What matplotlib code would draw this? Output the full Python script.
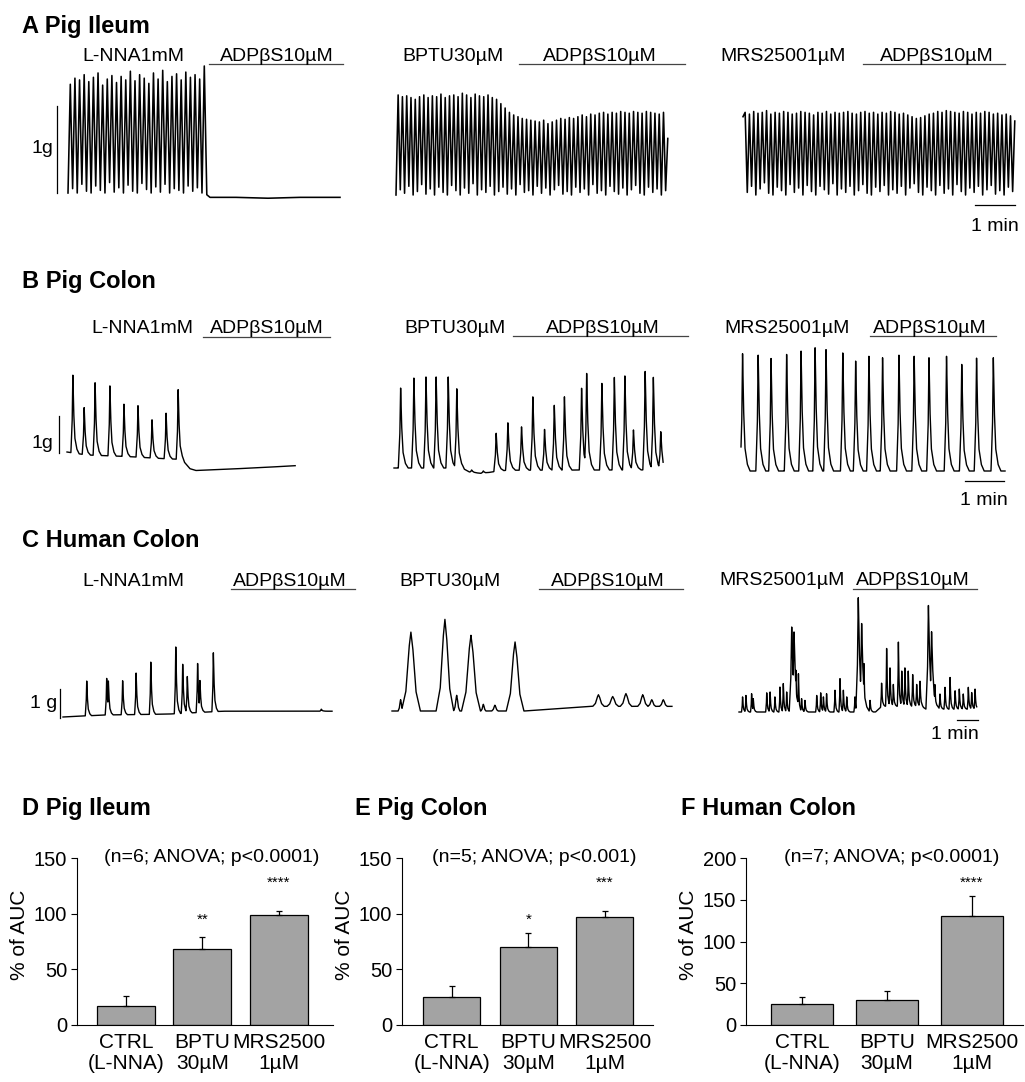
import numpy as np
import matplotlib.pyplot as plt

plt.rcParams['font.family'] = ['Liberation Sans', 'DejaVu Sans']

# ---------------- trace data: time in min from trace start, force in g ----------------
# A Pig ileum (regular phasic contractions: peak / trough pairs)
A1_PERIOD = 0.1155
A1_PEAKS = [1.25, 1.32, 1.30, 1.36, 1.28, 1.33, 1.38, 1.24, 1.31, 1.35, 1.27, 1.34, 1.30, 1.40, 1.29,
            1.36, 1.32, 1.26, 1.38, 1.31, 1.41, 1.28, 1.34, 1.37, 1.30, 1.39, 1.33, 1.36, 1.31, 1.46]
A1_TROUGHS = [0.00, 0.05, 0.00, 0.10, 0.02, 0.00, 0.08, 0.03, 0.00, 0.12, 0.01, 0.06, 0.00, 0.09, 0.02,
              0.00, 0.11, 0.04, 0.00, 0.07, 0.01, 0.10, 0.00, 0.05, 0.03, 0.00, 0.08, 0.02, 0.06, 0.00]
A1_TAIL_T = [3.47, 3.55, 4.2, 5.0, 5.8, 6.8]
A1_TAIL_V = [-0.02, -0.05, -0.05, -0.06, -0.05, -0.05]

A2_PERIOD = 0.107
A2_PEAKS = [1.15, 1.13, 1.14, 1.12, 1.10, 1.13, 1.15, 1.12, 1.14, 1.13, 1.16, 1.12, 1.14, 1.15, 1.13, 1.17,
            1.15, 1.12, 1.16, 1.14, 1.13, 1.15, 1.12, 1.10,
            1.05, 1.00, 0.95, 0.92, 0.90, 0.88, 0.87,
            0.86, 0.85, 0.84, 0.86, 0.82, 0.84, 0.86, 0.88, 0.87, 0.89, 0.88, 0.90,
            0.92, 0.90, 0.93, 0.92, 0.94, 0.95, 0.93, 0.95, 0.94, 0.96, 0.95, 0.94, 0.96, 0.95, 0.94, 0.96,
            0.95, 0.94, 0.93, 0.95, 0.65]
A2_TROUGHS = [0.00, 0.06, 0.02, 0.10, 0.00, 0.04, 0.12, 0.01, 0.07, 0.00, 0.09, 0.03, 0.00, 0.11, 0.05, 0.00,
              0.08, 0.02, 0.13, 0.00, 0.06, 0.03, 0.10, 0.00, 0.04, 0.09, 0.01, 0.07, 0.00, 0.12, 0.03, 0.05,
              0.00, 0.10, 0.02, 0.08, 0.00, 0.06, 0.11, 0.01, 0.04, 0.00, 0.09, 0.03, 0.07, 0.00, 0.12, 0.02,
              0.05, 0.00, 0.10, 0.04, 0.01, 0.08, 0.00, 0.06, 0.11, 0.02, 0.00, 0.09, 0.03, 0.07, 0.00, 0.05]

A3_PERIOD = 0.107
A3_PEAKS = [0.95, 0.93, 0.96, 0.94, 0.95, 0.97, 0.93, 0.95, 0.94, 0.96, 0.95, 0.93, 0.94, 0.96, 0.95, 0.94,
            0.92, 0.95, 0.94, 0.96, 0.93, 0.95, 0.94, 0.95, 0.96, 0.94, 0.93, 0.95, 0.96, 0.94, 0.95, 0.93,
            0.95, 0.94, 0.96, 0.95, 0.93, 0.94, 0.92, 0.90, 0.88, 0.89, 0.91, 0.93, 0.94, 0.96, 0.95, 0.97,
            0.96, 0.95, 0.94, 0.96, 0.95, 0.93, 0.95, 0.94, 0.96, 0.95, 0.93, 0.94, 0.92, 0.93, 0.91, 0.85]
A3_TROUGHS = [0.90, 0.03, 0.10, 0.00, 0.07, 0.14, 0.02, 0.00, 0.09, 0.05, 0.00, 0.12, 0.03, 0.08, 0.00, 0.11,
              0.04, 0.00, 0.10, 0.06, 0.01, 0.13, 0.00, 0.07, 0.03, 0.10, 0.00, 0.05, 0.12, 0.02, 0.00, 0.09,
              0.04, 0.11, 0.00, 0.06, 0.02, 0.10, 0.00, 0.08, 0.13, 0.03, 0.00, 0.09, 0.05, 0.00, 0.11, 0.02,
              0.07, 0.00, 0.12, 0.04, 0.00, 0.08, 0.03, 0.10, 0.00, 0.06, 0.11, 0.01, 0.05, 0.00, 0.09, 0.04]

# B Pig colon
B1_T = [0.15, 0.44, 0.72, 1.10, 1.46, 1.82, 2.18, 2.54, 2.85]
B1_A = [2.10, 1.27, 1.96, 1.89, 1.41, 1.39, 1.03, 1.23, 1.88]
B1_BASE_T = [0, 0.5, 1.5, 2.5, 2.95, 3.15, 3.3, 4.0, 5.0, 5.85]
B1_BASE_V = [0, -0.08, -0.12, -0.18, -0.2, -0.45, -0.5, -0.47, -0.42, -0.37]

B2_T = [0.17, 0.51, 0.82, 1.08, 1.39, 1.61, 1.99, 2.29, 2.62, 2.92, 3.27, 3.56, 3.86, 4.11, 4.37,
        4.81, 4.94, 5.33, 5.65, 5.92, 6.14, 6.44, 6.65, 6.84]
B2_A = [2.16, 2.43, 2.46, 2.46, 2.46, 2.14, 0.07, 0.07, 1.03, 1.28, 1.17, 1.98, 1.10, 1.75, 1.98,
        2.21, 2.61, 2.34, 2.50, 2.54, 1.08, 2.66, 2.50, 1.03]
B2_BASE_T = [0, 1.75, 1.95, 2.3, 2.55, 2.9, 6.9]
B2_BASE_V = [0, 0, -0.12, -0.15, -0.1, -0.06, -0.05]

B3_T = [0.04, 0.44, 0.77, 1.17, 1.54, 1.90, 2.18, 2.61, 2.94, 3.28, 3.63, 4.05, 4.44, 4.82, 5.27,
        5.66, 6.04, 6.47]
B3_A = [3.17, 3.13, 3.04, 3.15, 3.24, 3.33, 3.28, 3.19, 2.97, 3.10, 3.06, 3.13, 3.10, 3.06, 3.10,
        2.88, 3.05, 3.06]
B3_BASE_T = [0, 6.77]
B3_BASE_V = [0, 0]

# C Human colon
C1_T = [1.13, 2.08, 2.16, 2.84, 3.48, 4.18, 5.37, 5.70, 5.92, 6.41, 6.52, 7.16, 12.3]
C1_A = [1.20, 1.26, 1.17, 1.17, 1.43, 1.80, 2.30, 1.69, 1.26, 1.69, 1.10, 2.03, 0.07]
C1_BASE_T = [0, 2, 5, 7.6, 12.81]
C1_BASE_V = [0, 0.07, 0.1, 0.2, 0.2]

C2_T = [0.41, 0.90, 2.52, 3.08, 3.76, 4.35, 4.90, 5.86, 9.83, 10.51, 11.14, 11.94, 12.37, 12.92]
C2_A = [0.39, 2.72, 3.16, 0.54, 2.61, 0.23, 0.20, 2.38, 0.40, 0.34, 0.44, 0.40, 0.23, 0.23]
C2_W = [0.08, 0.30, 0.28, 0.10, 0.30, 0.08, 0.10, 0.28, 0.18, 0.18, 0.18, 0.16, 0.12, 0.12]
C2_BASE_T = [0, 6.3, 9.5, 13.33]
C2_BASE_V = [0, 0, 0.16, 0.16]

C3_T = [0.17, 0.33, 0.60, 0.68, 1.32, 1.48, 1.71, 1.95, 2.11, 2.27, 2.51, 2.62, 2.71, 2.83, 2.98,
        3.14, 3.70, 3.89, 4.02, 4.17, 4.57, 4.81, 4.97, 5.13, 5.52, 5.68, 5.84, 5.95, 6.24, 6.79,
        7.03, 7.19, 7.35, 7.59, 7.75, 7.90, 8.06, 8.27, 8.46, 8.62, 9.02, 9.17, 9.33, 9.57, 9.81,
        10.05, 10.29, 10.49, 10.68, 10.92, 11.08, 11.24]
C3_A = [0.52, 0.57, 0.63, 0.46, 0.66, 0.69, 0.52, 0.86, 0.98, 0.69, 2.93, 2.76, 1.44, 1.32, 0.46,
        0.40, 0.57, 0.66, 0.52, 0.63, 0.75, 1.15, 0.75, 0.52, 0.52, 3.94, 3.05, 1.67, 0.40, 0.80,
        1.99, 1.32, 0.75, 2.21, 1.21, 1.32, 1.21, 1.09, 0.75, 0.86, 3.62, 2.70, 0.86, 0.52, 0.75,
        1.09, 0.63, 0.69, 0.52, 0.75, 0.57, 0.69]
C3_BASE_T = [0, 6.5, 6.8, 8.7, 9.0, 9.5, 11.32]
C3_BASE_V = [0, 0, 0.2, 0.2, 0.05, 0.1, 0.1]

# ---------------- summary bar data (% of AUC) ----------------
BAR_LABELS = ['CTRL\n(L-NNA)', 'BPTU\n30µM', 'MRS2500\n1µM']
D_MEAN = [17, 68, 99]
D_SEM = [9, 11, 3]
D_STARS = ['', '**', '****']
E_MEAN = [25, 70, 97]
E_SEM = [10, 13, 5]
E_STARS = ['', '*', '***']
F_MEAN = [25, 30, 131]
F_SEM = [9, 11, 24]
F_STARS = ['', '', '****']

# waveform templates (shape only, scaled by each peak's width and amplitude)
SPIKE = (np.array([-1.0, -0.35, 0.0, 0.4, 1.0, 2.0, 3.2]), np.array([0.0, 0.4, 1.0, 0.55, 0.2, 0.06, 0.0]))
HUMP = (np.array([-1.5, -0.8, -0.3, 0.0, 0.3, 0.8, 1.5]), np.array([0.0, 0.25, 0.8, 1.0, 0.8, 0.25, 0.0]))

W, H = 1025, 1082
fig = plt.figure(figsize=(W / 100, H / 100), dpi=100)
ov = fig.add_axes([0, 0, 1, 1])
ov.set_xlim(0, W)
ov.set_ylim(H, 0)
ov.axis('off')

LW = 1.0


def trace_axes(x0, span, base_y, ppm, ppg, y_top, y_bot):
    ax = fig.add_axes([x0 / W, 1 - y_bot / H, span * ppm / W, (y_bot - y_top) / H])
    ax.set_xlim(0, span)
    ax.set_ylim(-(y_bot - base_y) / ppg, (base_y - y_top) / ppg)
    ax.axis('off')
    return ax


def zigzag(ax, period, peaks, troughs, tail_t=(), tail_v=()):
    vals = np.column_stack([troughs, peaks]).ravel()
    t = np.arange(len(vals)) * period / 2
    ax.plot(np.concatenate([t, tail_t]), np.concatenate([vals, tail_v]), color='k', lw=1.15,
            clip_on=False)


def peaks_trace(ax, span, times, amps, widths, base_t, base_v, shape):
    widths = np.broadcast_to(widths, len(times))
    t = np.union1d(np.linspace(0, span, 4000), times)
    y = np.zeros_like(t)
    for ti, ai, wi in zip(times, amps, widths):
        y = np.maximum(y, ai * np.interp(t - ti, shape[0] * wi, shape[1], left=0, right=0))
    ax.plot(t, np.interp(t, base_t, base_v) + y, color='k', lw=LW, clip_on=False)


def drug(cx1, s1, cx2, x0, x1, base, line_y):
    ov.text(cx1, base, s1, ha='center', va='baseline', fontsize=14)
    ov.text(cx2, base, 'ADPβS10µM', ha='center', va='baseline', fontsize=14)
    ov.plot([x0, x1], [line_y, line_y], color='#444444', lw=0.9)


# ---------------- A Pig Ileum ----------------
ov.text(22, 33, 'A Pig Ileum', fontsize=17, fontweight='bold', va='baseline')
drug(133, 'L-NNA1mM', 277, 209, 343, 61, 64)
drug(453, 'BPTU30µM', 600, 519, 685, 61, 64)
drug(783, 'MRS25001µM', 937, 863, 1005, 61, 64)

a1 = trace_axes(68, 6.8, 193, 40, 87, 65, 215)
zigzag(a1, A1_PERIOD, A1_PEAKS, A1_TROUGHS, A1_TAIL_T, A1_TAIL_V)
a1.plot([-0.275, -0.275], [0, 1], color='k', lw=0.9, clip_on=False)
ov.text(53, 153, '1g', ha='right', va='baseline', fontsize=14)

a2 = trace_axes(396, 6.8, 195, 40, 87, 65, 215)
zigzag(a2, A2_PERIOD, A2_PEAKS, A2_TROUGHS)

a3 = trace_axes(743, 6.8, 195, 40, 87, 65, 215)
zigzag(a3, A3_PERIOD, A3_PEAKS, A3_TROUGHS)
a3.plot([5.8, 6.8], [-0.115, -0.115], color='k', lw=0.9, clip_on=False)
ov.text(995, 231, '1 min', ha='center', va='baseline', fontsize=14)

# ---------------- B Pig Colon ----------------
ov.text(22, 288, 'B Pig Colon', fontsize=17, fontweight='bold', va='baseline')
drug(142, 'L-NNA1mM', 267, 203, 330, 333, 337)
drug(455, 'BPTU30µM', 603, 513, 688, 333, 336)
drug(787, 'MRS25001µM', 930, 870, 996, 333, 336)

b1 = trace_axes(67, 5.85, 452, 39, 37, 345, 490)
peaks_trace(b1, 5.85, B1_T, B1_A, 0.05, B1_BASE_T, B1_BASE_V, SPIKE)
b1.plot([-0.205, -0.205], [-0.03, 0.97], color='k', lw=0.9, clip_on=False)
ov.text(53, 448, '1g', ha='right', va='baseline', fontsize=14)

b2 = trace_axes(394, 6.9, 468, 39, 37, 345, 490)
peaks_trace(b2, 6.9, B2_T, B2_A, 0.06, B2_BASE_T, B2_BASE_V, SPIKE)

b3 = trace_axes(741, 6.77, 471, 39, 37, 345, 490)
peaks_trace(b3, 6.77, B3_T, B3_A, 0.06, B3_BASE_T, B3_BASE_V, SPIKE)
b3.plot([5.74, 6.74], [-0.27, -0.27], color='k', lw=0.9, clip_on=False)
ov.text(984, 505, '1 min', ha='center', va='baseline', fontsize=14)

# ---------------- C Human Colon ----------------
ov.text(22, 547, 'C Human Colon', fontsize=17, fontweight='bold', va='baseline')
drug(133, 'L-NNA1mM', 290, 231, 355, 586, 589)
drug(450, 'BPTU30µM', 608, 539, 683, 586, 589)
drug(782, 'MRS25001µM', 913, 853, 977, 585, 589)

c1 = trace_axes(63, 12.81, 717, 21, 29, 595, 745)
peaks_trace(c1, 12.81, C1_T, C1_A, 0.07, C1_BASE_T, C1_BASE_V, SPIKE)
c1.plot([-0.14, -0.14], [-0.03, 0.97], color='k', lw=0.9, clip_on=False)
ov.text(57, 708, '1 g', ha='right', va='baseline', fontsize=14)

c2 = trace_axes(392, 13.33, 711, 21, 29, 595, 745)
peaks_trace(c2, 13.33, C2_T, C2_A, C2_W, C2_BASE_T, C2_BASE_V, HUMP)

c3 = trace_axes(739, 11.32, 712, 21, 29, 595, 745)
c3_w = [0.12 if a > 2.5 else 0.05 for a in C3_A]
peaks_trace(c3, 11.32, C3_T, C3_A, c3_w, C3_BASE_T, C3_BASE_V, SPIKE)
c3.plot([10.38, 11.38], [-0.28, -0.28], color='k', lw=0.9, clip_on=False)
ov.text(955, 739, '1 min', ha='center', va='baseline', fontsize=14)


# ---------------- D/E/F bar charts ----------------
def bar_panel(x0, x1, xlim, width, ymax, step, means, sems, stars, note, title, tx, lab_x):
    ax = fig.add_axes([x0 / W, 1 - 1025 / H, (x1 - x0) / W, 167 / H])
    x = np.arange(len(means))
    ax.bar(x, means, width, color='#a3a3a3', edgecolor='black', linewidth=0.9,
           yerr=[np.zeros(len(sems)), sems], capsize=2,
           error_kw=dict(elinewidth=0.9, capthick=0.9, ecolor='black'))
    ax.set_xlim(*xlim)
    ax.set_ylim(0, ymax)
    ax.set_yticks(np.arange(0, ymax + 1, step))
    ax.set_xticks(x)
    ax.set_xticklabels(BAR_LABELS, fontsize=15, linespacing=1.12)
    ax.tick_params(axis='y', direction='out', length=4, width=0.8, labelsize=14.5, pad=3)
    ax.tick_params(axis='x', length=0, pad=6)
    for s in ['top', 'right']:
        ax.spines[s].set_visible(False)
    for s in ['left', 'bottom']:
        ax.spines[s].set_linewidth(0.8)
    for i, st in enumerate(stars):
        if st:
            ax.text(i, (0.605 if len(st) <= 2 else 0.826) * ymax, st, ha='center', va='baseline', fontsize=11)
    ax.text(0.525, 1.0, note, transform=ax.transAxes, ha='center', va='center', fontsize=14)
    ov.text(tx, 815, title, fontsize=17, fontweight='bold', va='baseline')
    ov.text(lab_x, 935, '% of AUC', rotation=90, ha='center', va='center', fontsize=15)


bar_panel(77, 333, (-0.64, 2.71), 0.76, 150, 50, D_MEAN, D_SEM, D_STARS,
          '(n=6; ANOVA; p<0.0001)', 'D Pig Ileum', 22, 20)
bar_panel(402, 653, (-0.65, 2.63), 0.745, 150, 50, E_MEAN, E_SEM, E_STARS,
          '(n=5; ANOVA; p<0.001)', 'E Pig Colon', 355, 345)
bar_panel(746, 1023, (-0.66, 2.60), 0.73, 200, 50, F_MEAN, F_SEM, F_STARS,
          '(n=7; ANOVA; p<0.0001)', 'F Human Colon', 681, 689)

fig.savefig('out.png', dpi=100)
